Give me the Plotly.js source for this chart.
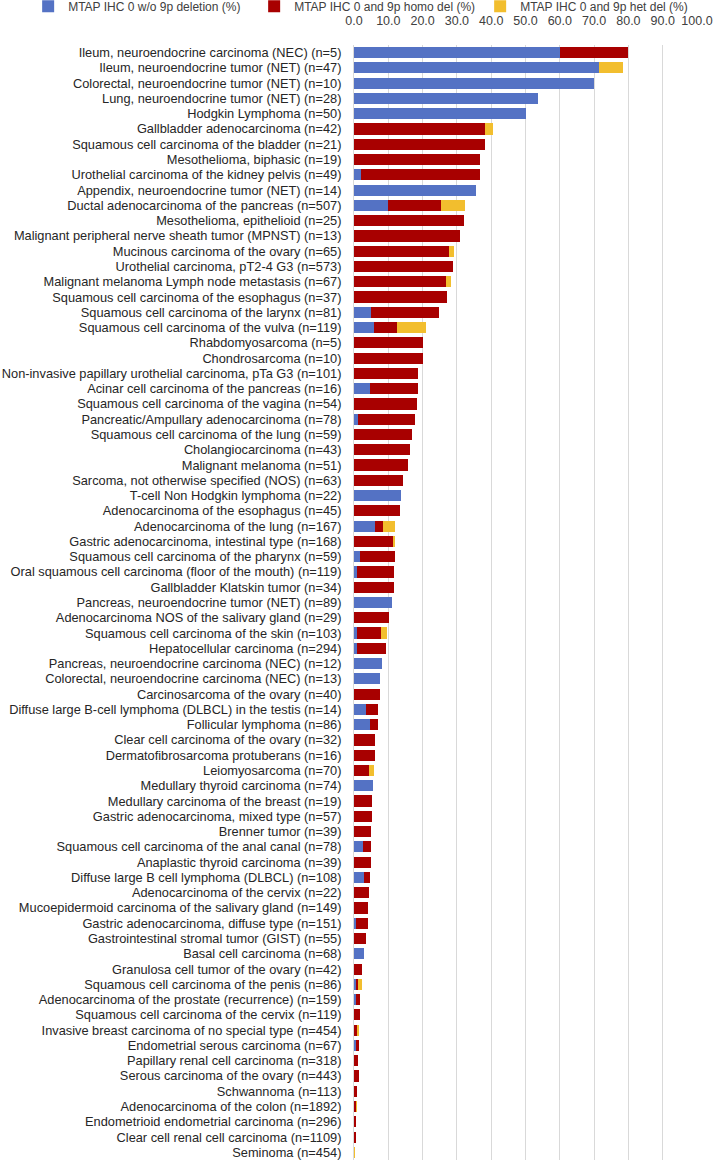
<!DOCTYPE html>
<html>
<head>
<meta charset="utf-8">
<script src="https://cdn.plot.ly/plotly-3.0.1.min.js"></script>
<style>html,body{margin:0;padding:0;background:#fff;}#chart{width:722px;height:1160px;}</style>
</head>
<body>
<div id="chart"></div>
<script>
const categories = [
"Ileum, neuroendocrine carcinoma (NEC) (n=5)",
"Ileum, neuroendocrine tumor (NET) (n=47)",
"Colorectal, neuroendocrine tumor (NET) (n=10)",
"Lung, neuroendocrine tumor (NET) (n=28)",
"Hodgkin Lymphoma (n=50)",
"Gallbladder adenocarcinoma (n=42)",
"Squamous cell carcinoma of the bladder (n=21)",
"Mesothelioma, biphasic (n=19)",
"Urothelial carcinoma of the kidney pelvis (n=49)",
"Appendix, neuroendocrine tumor (NET) (n=14)",
"Ductal adenocarcinoma of the pancreas (n=507)",
"Mesothelioma, epithelioid (n=25)",
"Malignant peripheral nerve sheath tumor (MPNST) (n=13)",
"Mucinous carcinoma of the ovary (n=65)",
"Urothelial carcinoma, pT2-4 G3 (n=573)",
"Malignant melanoma Lymph node metastasis (n=67)",
"Squamous cell carcinoma of the esophagus (n=37)",
"Squamous cell carcinoma of the larynx (n=81)",
"Squamous cell carcinoma of the vulva (n=119)",
"Rhabdomyosarcoma (n=5)",
"Chondrosarcoma (n=10)",
"Non-invasive papillary urothelial carcinoma, pTa G3 (n=101)",
"Acinar cell carcinoma of the pancreas (n=16)",
"Squamous cell carcinoma of the vagina (n=54)",
"Pancreatic/Ampullary adenocarcinoma (n=78)",
"Squamous cell carcinoma of the lung (n=59)",
"Cholangiocarcinoma (n=43)",
"Malignant melanoma (n=51)",
"Sarcoma, not otherwise specified (NOS) (n=63)",
"T-cell Non Hodgkin lymphoma (n=22)",
"Adenocarcinoma of the esophagus (n=45)",
"Adenocarcinoma of the lung (n=167)",
"Gastric adenocarcinoma, intestinal type (n=168)",
"Squamous cell carcinoma of the pharynx (n=59)",
"Oral squamous cell carcinoma (floor of the mouth) (n=119)",
"Gallbladder Klatskin tumor (n=34)",
"Pancreas, neuroendocrine tumor (NET) (n=89)",
"Adenocarcinoma NOS of the salivary gland (n=29)",
"Squamous cell carcinoma of the skin (n=103)",
"Hepatocellular carcinoma (n=294)",
"Pancreas, neuroendocrine carcinoma (NEC) (n=12)",
"Colorectal, neuroendocrine carcinoma (NEC) (n=13)",
"Carcinosarcoma of the ovary (n=40)",
"Diffuse large B-cell lymphoma (DLBCL) in the testis (n=14)",
"Follicular lymphoma (n=86)",
"Clear cell carcinoma of the ovary (n=32)",
"Dermatofibrosarcoma protuberans (n=16)",
"Leiomyosarcoma (n=70)",
"Medullary thyroid carcinoma (n=74)",
"Medullary carcinoma of the breast (n=19)",
"Gastric adenocarcinoma, mixed type (n=57)",
"Brenner tumor (n=39)",
"Squamous cell carcinoma of the anal canal (n=78)",
"Anaplastic thyroid carcinoma (n=39)",
"Diffuse large B cell lymphoma (DLBCL) (n=108)",
"Adenocarcinoma of the cervix (n=22)",
"Mucoepidermoid carcinoma of the salivary gland (n=149)",
"Gastric adenocarcinoma, diffuse type (n=151)",
"Gastrointestinal stromal tumor (GIST) (n=55)",
"Basal cell carcinoma (n=68)",
"Granulosa cell tumor of the ovary (n=42)",
"Squamous cell carcinoma of the penis (n=86)",
"Adenocarcinoma of the prostate (recurrence) (n=159)",
"Squamous cell carcinoma of the cervix (n=119)",
"Invasive breast carcinoma of no special type (n=454)",
"Endometrial serous carcinoma (n=67)",
"Papillary renal cell carcinoma (n=318)",
"Serous carcinoma of the ovary (n=443)",
"Schwannoma (n=113)",
"Adenocarcinoma of the colon (n=1892)",
"Endometrioid endometrial carcinoma (n=296)",
"Clear cell renal cell carcinoma (n=1109)",
"Seminoma (n=454)"
];

const noDeletion = [
60, 71.3, 70, 53.6, 50, 0, 0, 0, 2.0, 35.7,
9.8, 0, 0, 0, 0, 0, 0, 4.9, 5.9, 0,
0, 0, 4.7, 0, 1.3, 0, 0, 0, 0, 13.6,
0, 6.0, 0, 1.7, 0.8, 0, 11.2, 0, 1.0, 1.0,
8.3, 7.7, 0, 3.6, 4.65, 0, 0, 0, 5.4, 0,
0, 0, 2.6, 0, 2.8, 0, 0, 0.66, 0, 2.9,
0, 0.6, 0.63, 0, 0, 0.5, 0, 0, 0, 0,
0.25, 0, 0
];

const homoDel = [
20, 0, 0, 0, 0, 38.1, 38.1, 36.8, 34.7, 0,
15.6, 32, 30.8, 27.7, 29.0, 26.9, 27.0, 19.8, 6.7, 20,
20, 18.8, 14.0, 18.5, 16.6, 16.9, 16.3, 15.7, 14.3, 0,
13.3, 2.4, 11.3, 10.2, 10.9, 11.8, 0, 10.3, 6.8, 8.2,
0, 0, 7.5, 3.5, 2.35, 6.25, 6.25, 4.3, 0, 5.3,
5.3, 5.1, 2.5, 5.1, 1.85, 4.5, 4.0, 3.3, 3.6, 0,
2.4, 0.6, 1.26, 1.7, 1.1, 1.0, 1.3, 1.35, 0.9, 0.6,
0.25, 0.36, 0
];

const hetDel = [
0, 7.2, 0, 0, 0, 2.4, 0, 0, 0, 0,
6.9, 0, 0, 1.5, 0, 1.5, 0, 0, 8.4, 0,
0, 0, 0, 0, 0, 0, 0, 0, 0, 0,
0, 3.6, 0.6, 0, 0, 0, 0, 0, 1.9, 0,
0, 0, 0, 0, 0, 0, 0, 1.4, 0, 0,
0, 0, 0, 0, 0, 0, 0, 0, 0, 0,
0, 1.1, 0, 0, 0.4, 0, 0, 0, 0, 0.2,
0, 0, 0.22
];

const seriesNames = [
"MTAP IHC 0 w/o 9p deletion (%)",
"MTAP IHC 0 and 9p homo del (%)",
"MTAP IHC 0 and 9p het del (%)"
];
const seriesColors = ["#5472C4", "#A80000", "#F2BE2E"];
const seriesValues = [noDeletion, homoDel, hetDel];

const traces = seriesValues.map((vals, i) => ({
  type: "bar",
  orientation: "h",
  name: seriesNames[i],
  x: vals,
  y: categories,
  marker: {color: seriesColors[i], line: {width: 0}},
  hoverinfo: "x+y+name"
}));

const layout = {
  width: 722,
  height: 1160,
  barmode: "stack",
  bargap: 0.27,
  margin: {l: 354, r: 25, t: 45, b: 0, pad: 0, autoexpand: false},
  paper_bgcolor: "#ffffff",
  plot_bgcolor: "#ffffff",
  font: {family: "Liberation Sans, Arial, sans-serif", size: 12.8, color: "#262626"},
  showlegend: true,
  legend: {
    orientation: "h",
    x: -0.95, xanchor: "left",
    y: 1.0348, yanchor: "middle",
    font: {size: 12, color: "#404040"},
    itemwidth: 30,
    entrywidth: 181,
    entrywidthmode: "pixels",
    traceorder: "normal",
    bgcolor: "rgba(0,0,0,0)"
  },
  xaxis: {
    side: "top",
    range: [0, 100],
    tick0: 0,
    dtick: 10,
    tickformat: ".1f",
    showgrid: true,
    gridcolor: "#d9d9d9",
    gridwidth: 1,
    zeroline: false,
    showline: false,
    ticks: "outside",
    ticklen: 14,
    tickcolor: "rgba(0,0,0,0)",
    tickfont: {size: 12.5, color: "#404040"},
    automargin: false,
    fixedrange: true
  },
  yaxis: {
    type: "category",
    range: [categories.length - 0.5, -0.5],
    showgrid: false,
    zeroline: false,
    showline: true,
    linecolor: "#d9d9d9",
    linewidth: 1,
    ticks: "outside",
    ticklen: 9,
    tickcolor: "rgba(0,0,0,0)",
    tickfont: {size: 12.8, color: "#262626"},
    automargin: false,
    fixedrange: true
  }
};

Plotly.newPlot("chart", traces, layout, {displayModeBar: false, responsive: false});
</script>
</body>
</html>
